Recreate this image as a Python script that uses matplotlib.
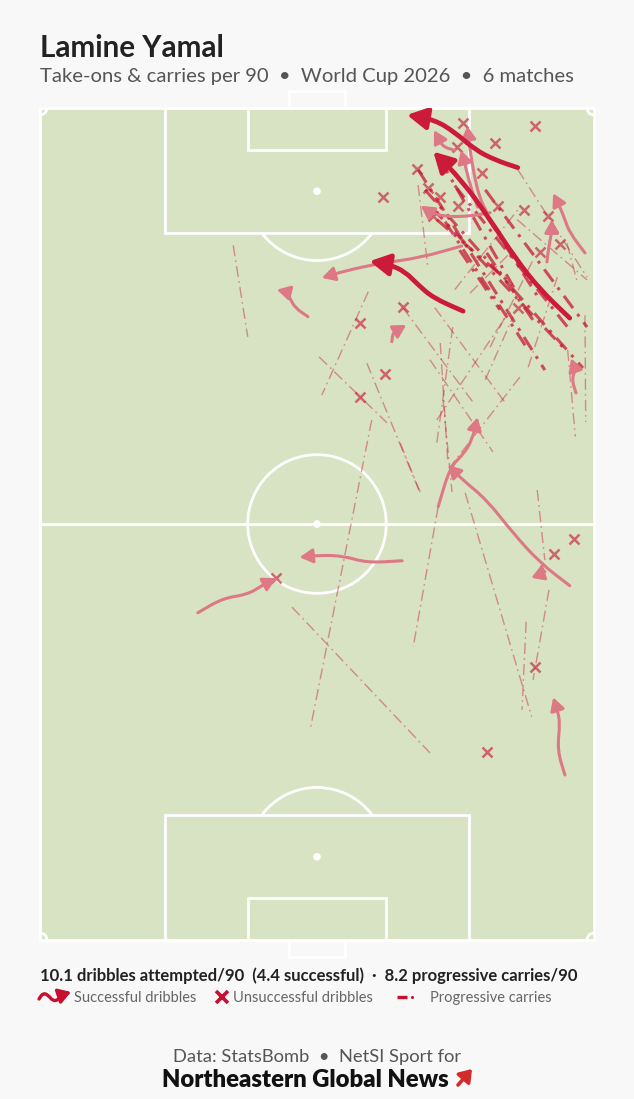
import numpy as np
import matplotlib.pyplot as plt
from matplotlib.patches import Rectangle, Arc, Circle, FancyArrowPatch
from matplotlib.path import Path

plt.rcParams['font.family'] = ['Lato', 'DejaVu Sans']

player = "Lamine Yamal"
competition = "World Cup 2026"
n_matches = 6
dribbles_p90 = 10.1
successful_p90 = 4.4
carries_p90 = 8.2

# pitch coordinates: x = width (0-80), y = length (0-120, attacking upwards)
fail_x = [61.1, 71.5, 65.7, 60.2, 54.4, 63.8, 56.0, 57.8, 60.4, 56.8, 66.1, 69.9,
          73.4, 49.5, 75.1, 72.2, 69.0, 52.4, 46.2, 49.8, 46.2, 77.1, 74.2, 71.5,
          64.5, 34.1]
fail_y = [117.8, 117.4, 115.0, 114.4, 111.2, 110.6, 108.5, 107.2, 105.9, 104.4, 105.9, 105.3,
          104.4, 107.2, 100.4, 99.2, 91.2, 91.3, 89.0, 81.6, 78.3, 57.8, 55.7, 39.4,
          27.1, 52.2]

# successful dribbles: path points, the last one is the arrow tip
drib_bold = [
    [(69.0, 111.4), (65.7, 112.5), (62.8, 114.0), (59.9, 116.5), (57.0, 118.3), (53.0, 119.0)],
    [(76.5, 89.7), (72.2, 93.8), (68.6, 98.4), (65.0, 103.9), (60.9, 109.6), (56.8, 113.7)],
    [(61.1, 90.7), (56.8, 92.6), (54.6, 94.5), (52.7, 96.4), (50.5, 97.4), (47.6, 97.9)],
]
drib_light = [
    [(60.9, 100.1), (54.9, 98.4), (49.1, 97.6), (44.0, 96.5), (40.7, 95.5)],
    [(38.7, 89.9), (36.8, 91.2), (36.1, 92.6), (35.4, 93.5), (34.2, 93.8)],
    [(50.8, 86.3), (51.0, 87.7), (51.7, 88.0), (52.9, 88.7)],
    [(52.3, 54.7), (47.2, 54.4), (43.8, 55.4), (40.4, 55.5), (37.5, 55.2)],
    [(22.8, 47.2), (26.4, 49.3), (29.9, 49.8), (32.2, 51.2), (34.1, 52.2)],
    [(76.5, 51.1), (72.2, 54.4), (68.3, 58.7), (64.5, 63.5), (61.1, 66.3), (58.9, 68.5)],
    [(72.9, 53.1), (72.4, 53.6), (72.5, 54.2)],
    [(57.5, 62.5), (59.2, 68.2), (61.1, 70.0), (62.4, 72.1), (63.2, 75.4)],
    [(75.8, 23.8), (74.7, 27.4), (75.1, 31.3), (74.7, 33.2), (74.1, 35.0)],
    [(78.7, 99.1), (76.5, 102.0), (75.8, 103.9), (75.1, 105.7), (74.1, 107.7)],
    [(73.2, 97.8), (73.5, 100.2), (73.9, 102.1), (73.9, 103.9)],
    [(77.4, 78.9), (76.8, 80.8), (77.3, 82.2), (76.7, 83.9)],
    [(64.5, 105.0), (63.5, 107.0), (62.7, 110.3), (62.1, 113.9), (61.7, 117.4)],
    [(63.2, 105.7), (62.1, 108.9), (61.4, 111.8), (60.8, 113.9)],
    [(59.9, 113.9), (58.2, 114.4), (57.5, 115.7), (56.9, 116.8)],
    [(65.0, 104.9), (62.1, 104.4), (58.5, 104.3), (56.3, 105.0), (55.0, 105.9)],
]

# progressive carries: x0, y0, x1, y1
carry_bold = [
    (54.6, 111.1, 72.9, 82.2), (55.6, 108.2, 78.4, 82.5), (56.6, 105.6, 75.5, 85.5),
    (58.5, 103.6, 70.3, 85.4), (59.9, 108.8, 76.5, 88.0), (62.1, 108.2, 72.2, 92.3),
    (57.8, 112.5, 68.6, 93.8), (64.3, 108.2, 79.0, 88.4), (60.6, 99.5, 66.4, 90.9),
    (64.5, 99.1, 71.2, 89.4), (57.3, 103.9, 68.2, 94.5),
]
carry_light = [
    (27.9, 100.2, 30.0, 87.0), (47.4, 93.5, 40.7, 78.6), (40.3, 84.1, 50.1, 74.6),
    (47.2, 83.2, 54.7, 64.9), (47.9, 75.0, 39.0, 30.3), (52.4, 91.2, 62.8, 77.2),
    (57.0, 91.2, 67.1, 77.6), (56.3, 83.7, 65.4, 70.4), (57.8, 86.1, 58.9, 68.8),
    (59.6, 88.4, 57.3, 71.7), (57.3, 75.0, 67.4, 90.1), (69.3, 81.2, 59.2, 68.2),
    (62.1, 93.3, 68.3, 99.5), (64.3, 80.8, 68.3, 89.9), (70.5, 82.6, 74.7, 95.6),
    (78.7, 90.1, 78.8, 74.7), (76.2, 85.1, 77.3, 72.6), (52.0, 71.7, 54.9, 64.6),
    (57.5, 62.5, 53.9, 42.3), (61.4, 64.5, 71.0, 32.2), (71.8, 64.9, 72.9, 54.8),
    (73.5, 50.5, 71.2, 37.5), (70.2, 45.9, 69.6, 33.2), (36.4, 48.0, 56.3, 27.0),
    (58.2, 77.9, 59.5, 64.6), (54.6, 108.9, 56.0, 97.1), (69.0, 111.1, 79.0, 95.6),
    (59.9, 93.8, 69.3, 105.7), (65.0, 85.5, 71.2, 98.1), (76.1, 100.5, 77.5, 95.2),
    (68.9, 103.9, 79.0, 95.2),
]

RED = "#c8102e"
DARK = "#cb1a3a"
PINK = "#dd7884"
GRASS = "#d7e3c3"
BG = "#f8f8f8"
W, H = 634, 1099


def smooth_path(pts):
    pts = np.asarray(pts, float)
    verts = [pts[0], (pts[0] + pts[1]) / 2]
    codes = [Path.MOVETO, Path.LINETO]
    for i in range(1, len(pts) - 1):
        verts += [pts[i], (pts[i] + pts[i + 1]) / 2]
        codes += [Path.CURVE3, Path.CURVE3]
    verts.append(pts[-1])
    codes.append(Path.LINETO)
    return Path(verts, codes)


fig = plt.figure(figsize=(W / 100, H / 100), dpi=100, facecolor=BG)

# overlay in pixel units for texts and legend keys
bg = fig.add_axes([0, 0, 1, 1])
bg.set_xlim(0, W)
bg.set_ylim(H, 0)
bg.axis("off")

ax = fig.add_axes([40 / W, 159 / H, 554 / W, 832 / H])
ax.set_xlim(0, 80)
ax.set_ylim(0, 120)
ax.axis("off")

# pitch
lc = dict(color="white", lw=2, fill=False, clip_on=False, zorder=1)
ax.add_patch(Rectangle((0, 0), 80, 120, facecolor=GRASS, edgecolor="none", zorder=0))
ax.add_patch(Rectangle((0, 0), 80, 120, **lc))
ax.plot([0, 80], [60, 60], color="white", lw=2, zorder=1)
ax.add_patch(Circle((40, 60), 10, **lc))
for y0, h, sp, a1, a2 in [(102, 18, 108, 216.87, 323.13), (0, 18, 12, 36.87, 143.13)]:
    ax.add_patch(Rectangle((18, y0), 44, h, **lc))
    ax.add_patch(Arc((40, sp), 20, 20, theta1=a1, theta2=a2, color="white", lw=2, zorder=1))
    ax.add_patch(Circle((40, sp), 0.45, color="white", zorder=1))
ax.add_patch(Rectangle((30, 114), 20, 6, **lc))
ax.add_patch(Rectangle((30, 0), 20, 6, **lc))
ax.add_patch(Rectangle((36, 120), 8, 2.4, **lc))
ax.add_patch(Rectangle((36, -2.4), 8, 2.4, **lc))
ax.add_patch(Circle((40, 60), 0.45, color="white", zorder=1))
for cx, cy, a1, a2 in [(0, 0, 0, 90), (80, 0, 90, 180), (80, 120, 180, 270), (0, 120, 270, 360)]:
    ax.add_patch(Arc((cx, cy), 2, 2, theta1=a1, theta2=a2, color="white", lw=2, zorder=1))

# progressive carries
for x0, y0, x1, y1 in carry_light:
    ax.plot([x0, x1], [y0, y1], color=RED, alpha=0.42, lw=1.0,
            dashes=(8, 3, 1.2, 3), zorder=2)
for x0, y0, x1, y1 in carry_bold:
    ax.plot([x0, x1], [y0, y1], color=RED, alpha=0.72, lw=2.2,
            dashes=(5, 2.4, 1, 2.4), zorder=3)

# unsuccessful dribbles
ax.plot(fail_x, fail_y, "x", color=RED, alpha=0.6, ms=7, mew=1.8, zorder=4)

# successful dribbles
for pts in drib_light:
    ax.add_patch(FancyArrowPatch(path=smooth_path(pts),
                                 arrowstyle="-|>,head_length=0.9,head_width=0.5",
                                 mutation_scale=8.5, color=PINK, lw=2.2,
                                 capstyle="round", joinstyle="round", zorder=5))
for pts in drib_bold:
    ax.add_patch(FancyArrowPatch(path=smooth_path(pts),
                                 arrowstyle="-|>,head_length=1.0,head_width=0.55",
                                 mutation_scale=12, color=DARK, lw=3.4,
                                 capstyle="round", joinstyle="round", zorder=6))


# texts
def ftext(x, y, s, **kw):
    fig.text(x / W, 1 - y / H, s, **kw)


ftext(40, 57, player, fontsize=21.3, fontweight="bold", color="#222222", va="baseline")
ftext(40, 82, f"Take-ons & carries per 90  \u2022  {competition}  \u2022  {n_matches} matches",
      fontsize=14.6, color="#555555", va="baseline")
ftext(40, 981, f"{dribbles_p90} dribbles attempted/90  ({successful_p90} successful)  \u00b7  "
      f"{carries_p90} progressive carries/90",
      fontsize=12.0, fontweight="bold", color="#222222", va="baseline")

# legend keys
key = [(39, 999), (43, 993), (48, 995), (53, 1001), (58, 1000), (62, 995), (71, 992)]
bg.add_patch(FancyArrowPatch(path=smooth_path(key),
                             arrowstyle="-|>,head_length=0.8,head_width=0.5",
                             mutation_scale=9, color=RED, lw=2.4, joinstyle="round"))
bg.plot([222], [997], "x", color=RED, ms=8, mew=2.6)
bg.plot([397, 407], [997, 997], color=RED, lw=2.4, solid_capstyle="butt")
bg.plot([411.5], [997], "o", color=RED, ms=2.2, mew=0)
ftext(74, 1002, "Successful dribbles", fontsize=10.5, color="#666666", va="baseline")
ftext(233, 1002, "Unsuccessful dribbles", fontsize=10.5, color="#666666", va="baseline")
ftext(430, 1002, "Progressive carries", fontsize=10.5, color="#666666", va="baseline")

ftext(317, 1062, "Data: StatsBomb  \u2022  NetSI Sport for", fontsize=13.2, color="#555555",
      ha="center", va="baseline")
ftext(305, 1087, "Northeastern Global News", fontsize=17.2, fontweight="heavy", color="#111111",
      ha="center", va="baseline")
bg.annotate("", xy=(472, 1069), xytext=(458, 1085),
            arrowprops=dict(arrowstyle="-|>,head_length=0.5,head_width=0.35",
                            color="#d42a2a", lw=2.6, mutation_scale=14,
                            shrinkA=0, shrinkB=0))

fig.savefig("out.png", dpi=100, facecolor=BG)
